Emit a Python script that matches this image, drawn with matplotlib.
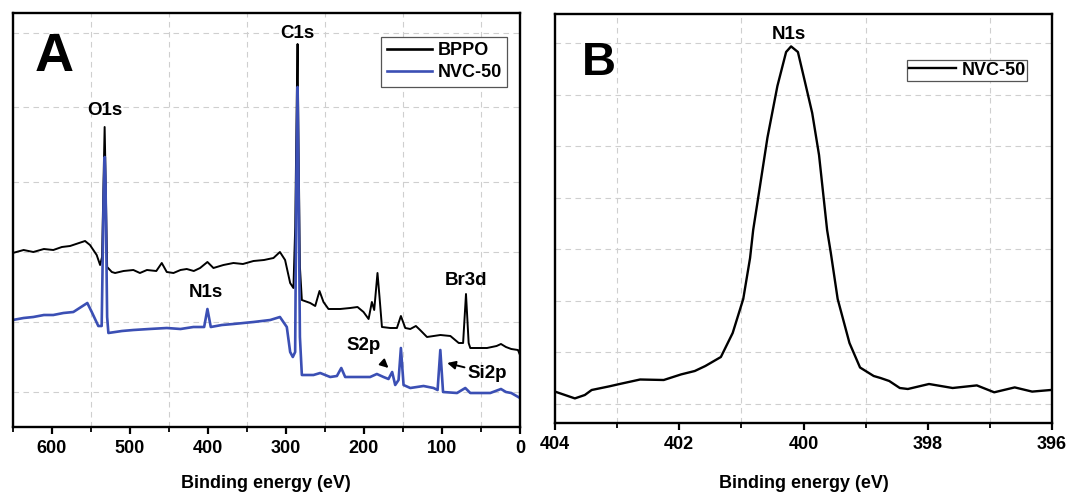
import matplotlib
matplotlib.use("Agg")
import matplotlib.pyplot as plt
from matplotlib.ticker import MultipleLocator

plt.rcParams['font.family'] = ['Liberation Sans', 'DejaVu Sans']
plt.rcParams['font.weight'] = 'bold'

# ---------------- Data ----------------
# Panel A: survey spectra (binding energy in eV, intensity in a.u.)
bppo_ev = [650, 636, 623.6, 610, 598, 587, 576.5, 565, 557.3, 551, 542.4, 538, 535.5, 533.5, 532.2, 531, 529, 523,
           518.8, 508, 495.4, 487, 478, 466, 459, 452.6, 444, 435, 427, 418, 409.9, 400.5, 392.8, 380, 367.2, 355,
           341.5, 328, 315.9, 307.6, 301, 294.5, 290.3, 288, 286, 285, 284, 282, 279.5, 268.8, 262.4, 256.9,
           251.8, 245.4, 230.4, 217.6, 208.2, 200.5, 194, 189.8, 186.8, 182.6, 180, 176.9,
           166.3, 157.7, 152.6, 147, 140.6, 133.4, 128, 119.2, 102, 89.2, 78.5, 72.9, 69.2,
           65.8, 63.7, 42.3, 30, 24.4, 18, 11.2, 2.6, 0]
bppo_int = [174, 177, 175, 178, 177, 180, 181, 184, 186, 182, 172, 162, 170, 250, 300, 250, 160, 155,
            154, 156, 157, 154, 157, 156, 164, 155, 154, 157, 158, 156, 159, 165, 159, 162, 164, 163,
            166, 167, 169, 175, 167, 144, 139, 200, 330, 383, 300, 160, 127, 124, 121, 136,
            125, 118, 118, 119, 120, 115, 108, 125, 117, 154, 130, 100,
            99, 99, 111, 99, 98, 101, 97, 90, 92, 91, 84, 84, 133,
            84, 79, 79, 81, 83, 80, 78, 77, 72]

nvc_ev = [650, 636, 623.6, 610, 598, 585, 572.3, 554.4, 548.7, 540.3, 536, 533.5, 532, 531, 529, 527.4, 510, 495.4,
          475, 452.6, 435, 418.5, 404.7, 400.5, 396.2, 382, 367.2, 341.5, 320, 307.6, 298.8, 294.5, 291.1,
          288.1, 286.5, 285, 283.8, 282, 279.5, 264.6, 256, 243.2, 234.6, 229, 224, 204.8,
          192, 183.4, 174.9, 168.5, 163.8, 159.9, 155.6, 152.6, 149.2, 140.6, 123.6, 110.8,
          105.6, 102.1, 98.6, 80.7, 70.1, 63.7, 38.1, 24.4, 18, 11.2, 0]
nvc_int = [107, 109, 110, 112, 112, 114, 115, 124, 115, 101, 101, 230, 270, 240, 110, 94, 96, 97,
           98, 99, 98, 100, 100, 118, 100, 102, 103, 105, 107, 110, 100, 75, 70,
           75, 250, 340, 250, 90, 52, 52, 54, 50, 51, 59, 50, 50,
           50, 53, 50, 48, 55, 42, 47, 79, 42, 39, 41, 39,
           37, 77, 35, 34, 39, 34, 34, 38, 35, 34, 29]

# Panel B: N1s high-resolution spectrum of NVC-50
n1s_ev = [404.0, 403.68, 403.52, 403.41, 403.13, 402.96, 402.63, 402.25, 401.97, 401.75, 401.58,
          401.33, 401.14, 400.97, 400.86, 400.81, 400.75, 400.58, 400.42, 400.28, 400.2,
          400.09, 399.98, 399.86, 399.75, 399.62, 399.56, 399.45, 399.26, 399.09, 398.87,
          398.76, 398.62, 398.45, 398.32, 397.98, 397.6, 397.21, 396.93, 396.6, 396.32, 396.02]
n1s_int = [31.4, 24.6, 28, 33, 36.6, 39, 43.5, 43, 48.6, 52, 57,
           66, 90, 124, 165, 193, 217, 285.5, 337, 371, 376.6,
           371, 342, 310, 268, 193, 170, 124, 80, 55.5, 47,
           45, 42, 35, 34, 39, 35, 37.6, 30.7, 35.6, 31.4, 33]

series_labels = ["BPPO", "NVC-50"]
xticks_a = [600, 500, 400, 300, 200, 100, 0]
xticks_b = [404, 402, 400, 398, 396]

# ---------------- Figure ----------------
W, H = 1069, 494
fig = plt.figure(figsize=(W / 100, H / 100), dpi=100)

def px_axes(l, t, r, b):
    return fig.add_axes([l / W, 1 - b / H, (r - l) / W, (b - t) / H])

axA = px_axes(12.7, 12.7, 520, 427)
axB = px_axes(555, 14, 1052, 423)

grid_kw = dict(color='#cfcfcf', linestyle=(0, (5, 4)), linewidth=0.8)
fs_tick = 13
fs_lab = 13.5
fs_leg = 13

for ax in (axA, axB):
    for s in ax.spines.values():
        s.set_linewidth(1.7)
    ax.tick_params(axis='x', which='major', direction='out', length=5, width=1.6,
                   labelsize=fs_tick, pad=4)
    ax.tick_params(axis='x', which='minor', direction='out', length=3.5, width=1.3)
    ax.tick_params(axis='y', which='both', left=False, labelleft=False)

# Panel A
blue = '#3b4fb4'
axA.plot(bppo_ev, bppo_int, color='black', lw=1.4, label=series_labels[0])
axA.plot(nvc_ev, nvc_int, color=blue, lw=1.9, label=series_labels[1])
axA.set_xlim(650, 0)
axA.set_ylim(0, 414.3)
axA.set_xticks(xticks_a)
axA.xaxis.set_minor_locator(MultipleLocator(50))
axA.set_yticks([35, 105, 175, 245, 320, 394])
axA.grid(True, which='minor', axis='x', **grid_kw)
axA.grid(True, which='major', axis='y', **grid_kw)
axA.set_axisbelow(True)
axA.set_xticklabels([str(v) for v in xticks_a], fontweight='bold')
axA.set_xlabel('Binding energy (eV)', fontsize=fs_tick, fontweight='bold')
axA.xaxis.set_label_coords(0.5, -0.117)

legA = axA.legend(loc='upper right', bbox_to_anchor=(0.9744, 0.9425), borderaxespad=0,
                  fancybox=False, edgecolor='#555555', framealpha=1,
                  prop=dict(size=fs_leg, weight='bold'), handlelength=2.5,
                  handletextpad=0.3, borderpad=0.3, labelspacing=0.3)
legA.get_frame().set_linewidth(0.9)
for line in legA.get_lines():
    line.set_linewidth(1.9)

axA.text(0.0814, 0.892, 'A', transform=axA.transAxes, fontsize=39, fontweight='bold',
         ha='center', va='center')
axA.text(532, 317, 'O1s', fontsize=fs_lab, fontweight='bold', ha='center', va='center')
axA.text(285, 394, 'C1s', fontsize=fs_lab, fontweight='bold', ha='center', va='center')
axA.text(402, 135, 'N1s', fontsize=fs_lab, fontweight='bold', ha='center', va='center')
axA.text(69.3, 147, 'Br3d', fontsize=fs_lab, fontweight='bold', ha='center', va='center')
axA.annotate('S2p', xy=(168.5, 59), xytext=(200.5, 82), fontsize=fs_lab, fontweight='bold',
             ha='center', va='center',
             arrowprops=dict(arrowstyle='-|>', color='black', lw=1.4, mutation_scale=12,
                             shrinkA=8, shrinkB=0))
axA.annotate('Si2p', xy=(93.3, 64), xytext=(42.3, 54), fontsize=fs_lab, fontweight='bold',
             ha='center', va='center',
             arrowprops=dict(arrowstyle='-|>', color='black', lw=1.4, mutation_scale=12,
                             shrinkA=16, shrinkB=0))

# Panel B
axB.plot(n1s_ev, n1s_int, color='black', lw=1.7, label=series_labels[1])
axB.set_xlim(404, 396)
axB.set_ylim(0, 409)
axB.set_xticks(xticks_b)
axB.xaxis.set_minor_locator(MultipleLocator(1))
axB.set_yticks([19.4, 71, 122.4, 174, 225.4, 277, 328.4, 380])
axB.grid(True, which='minor', axis='x', **grid_kw)
axB.grid(True, which='major', axis='y', **grid_kw)
axB.set_axisbelow(True)
axB.set_xticklabels([str(v) for v in xticks_b], fontweight='bold')
axB.set_xlabel('Binding energy (eV)', fontsize=fs_tick, fontweight='bold')
axB.xaxis.set_label_coords(0.5, -0.128)

legB = axB.legend(loc='upper right', bbox_to_anchor=(0.9505, 0.8875), borderaxespad=0,
                  fancybox=False, edgecolor='#555555', framealpha=1,
                  prop=dict(size=fs_leg, weight='bold'), handlelength=2.6,
                  handletextpad=0.3, borderpad=0.1)
legB.get_frame().set_linewidth(0.9)

axB.text(0.088, 0.879, 'B', transform=axB.transAxes, fontsize=34, fontweight='bold',
         ha='center', va='center')
axB.text(400.23, 388.6, 'N1s', fontsize=fs_lab, fontweight='bold', ha='center', va='center')

fig.savefig('out.png', dpi=100)
